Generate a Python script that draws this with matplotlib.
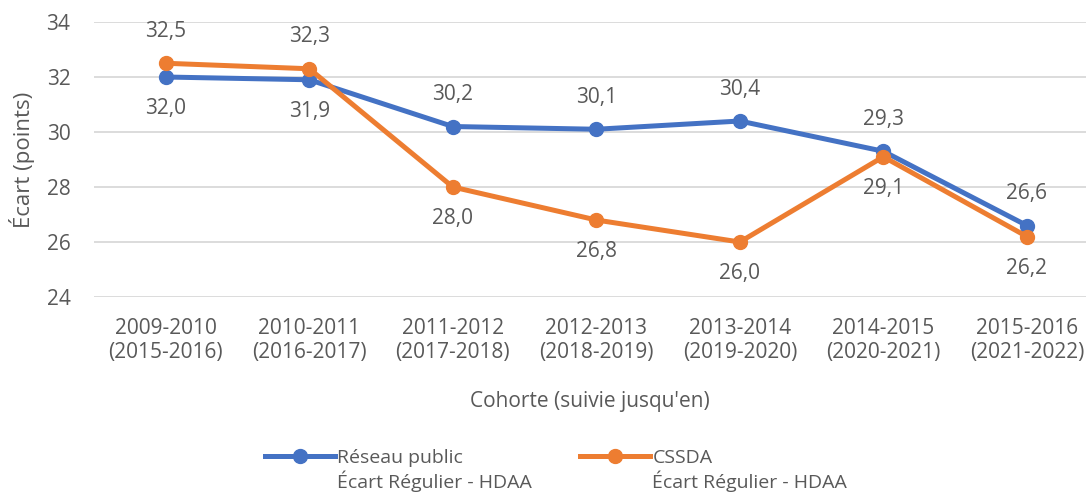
import matplotlib.pyplot as plt

plt.rcParams['font.family'] = ['Open Sans', 'DejaVu Sans']

cohortes = ["2009-2010\n(2015-2016)", "2010-2011\n(2016-2017)", "2011-2012\n(2017-2018)",
            "2012-2013\n(2018-2019)", "2013-2014\n(2019-2020)", "2014-2015\n(2020-2021)",
            "2015-2016\n(2021-2022)"]
reseau_public = [32.0, 31.9, 30.2, 30.1, 30.4, 29.3, 26.6]
cssda = [32.5, 32.3, 28.0, 26.8, 26.0, 29.1, 26.2]
# label above (+1) or below (-1)
pos_public = [-1, -1, 1, 1, 1, 1, 1]
pos_cssda = [1, 1, -1, -1, -1, -1, -1]

blue = "#4472C4"
orange = "#ED7D31"
grey = "#595959"

fig = plt.figure(figsize=(10.86, 4.97), dpi=100)
ax = fig.add_axes([0.0866, 0.4024, 0.925, 0.5533])

x = list(range(len(cohortes)))
ax.plot(x, reseau_public, color=blue, lw=3.6, marker="o", ms=10,
        label="Réseau public\nÉcart Régulier - HDAA", zorder=3)
ax.plot(x, cssda, color=orange, lw=3.6, marker="o", ms=10,
        label="CSSDA\nÉcart Régulier - HDAA", zorder=3)

for vals, pos in [(reseau_public, pos_public), (cssda, pos_cssda)]:
    for xi, v, p in zip(x, vals, pos):
        ax.annotate(f"{v:.1f}".replace(".", ","), (xi, v), xytext=(0, 23 * p),
                    textcoords="offset points", ha="center", va="center",
                    fontsize=15, color=grey)

ax.set_xlim(-0.5, len(cohortes) - 0.5)
ax.set_ylim(24, 34)
ax.set_yticks(range(24, 35, 2))
ax.set_xticks(x)
ax.set_xticklabels(cohortes, fontsize=15, color=grey, linespacing=1.2)
ax.tick_params(axis="y", labelsize=15, labelcolor=grey, length=0, pad=17)
ax.tick_params(axis="x", length=0, pad=15)
ax.grid(axis="y", color="#D9D9D9", lw=1.3)
ax.set_axisbelow(True)
for s in ax.spines.values():
    s.set_visible(False)

ax.set_ylabel("Écart (points)", fontsize=16, color=grey, labelpad=8)
ax.set_xlabel("Cohorte (suivie jusqu'en)", fontsize=15, color=grey)
ax.xaxis.set_label_coords(0.494, -0.34)

leg = fig.legend(loc="lower left", bbox_to_anchor=(0.244, 0.01), ncol=2, frameon=False,
                 fontsize=14, labelcolor=grey, handlelength=3.6, handletextpad=0.1,
                 columnspacing=2.5, borderpad=0, borderaxespad=0)
# handle next to the first line of each label, like Excel does
for col in leg._legend_handle_box.get_children():
    for item in col.get_children():
        item.align = "top"

fig.savefig("out.png", dpi=100)
